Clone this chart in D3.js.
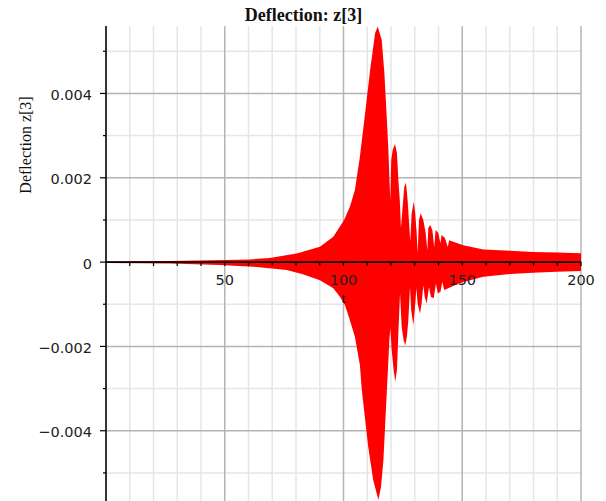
<!DOCTYPE html>
<html>
<head>
<meta charset="utf-8">
<script src="https://cdn.jsdelivr.net/npm/d3@7"></script>
<style>
  body { margin: 0; background: #fff; }
  .tick-label { font-family: "DejaVu Sans", sans-serif; font-size: 14.5px; fill: #222; }
  .serif { font-family: "Liberation Serif", "Times New Roman", serif; fill: #111; }
</style>
</head>
<body>
<svg id="chart" width="606" height="501"></svg>
<script>
const title = 'Deflection: z[3]';
const xLabel = 't';
const yLabel = 'Deflection z[3]';

const xTicks = [50, 100, 150, 200];
const yTicks = [-0.004, -0.002, 0, 0.002, 0.004];

// upper edge of the oscillation band (values x 1e-3)
const upperT = [0, 27, 50, 60.6, 69, 80.3, 90.1, 95.7, 100.2, 102.7,
  104.8, 106.9, 109.1, 111.2, 113.3, 114.4, 116.1, 117.2, 118.2, 118.9,
  119.3, 119.7, 120.1, 120.7, 121.7, 122.5, 123.1, 123.7, 124.2, 124.9,
  125.6, 126.3, 127.0, 127.6, 128.1, 128.7, 129.6, 130.2, 130.8, 131.2,
  131.8, 132.5, 133.6, 134.6, 135.3, 135.7, 136.5, 137.4, 138.2, 138.8,
  139.9, 140.8, 141.3, 142.7, 143.9, 144.5, 146.2, 148.3, 150.4, 158.9,
  170.1, 179.8, 189.8, 200];
const upperZ = [0.012, 0.024, 0.047, 0.064, 0.10, 0.206, 0.363, 0.60, 0.995, 1.31,
  1.71, 2.50, 3.53, 4.55, 5.43, 5.59, 5.27, 4.49, 3.44, 2.66,
  2.02, 1.47, 2.42, 2.66, 2.80, 2.59, 1.95, 1.47, 0.81, 1.31,
  1.79, 1.88, 1.47, 0.93, 0.48, 1.16, 1.43, 1.16, 0.69, 0.21,
  1.00, 1.16, 1.00, 0.69, 0.28, 0.81, 0.88, 0.76, 0.36, 0.76,
  0.69, 0.45, 0.64, 0.57, 0.36, 0.52, 0.48, 0.44, 0.40, 0.30,
  0.27, 0.24, 0.23, 0.21];

// lower edge of the oscillation band (values x 1e-3)
const lowerT = [0, 27, 48, 62, 76.1, 82.9, 90.1, 95.7, 98.5, 100.6,
  102.7, 104.8, 106.9, 107.7, 110.4, 112.5, 114.7, 115.8, 116.8, 117.5, 118.2,
  118.9, 119.3, 119.7, 120.3, 121.1, 121.8, 122.5, 123.1, 123.8, 124.5,
  125.3, 126.0, 126.7, 127.3, 128.0, 128.5, 129.4, 130.0, 130.7, 131.2,
  132.2, 132.9, 133.6, 134.2, 135.0, 136.0, 136.8, 138.0, 138.9, 139.7,
  140.8, 141.6, 142.4, 144.1, 146.9, 150.4, 158.9, 170.1, 179.8, 189.8,
  200];
const lowerZ = [-0.024, -0.036, -0.071, -0.11, -0.19, -0.29, -0.43, -0.62, -0.82, -1.02,
  -1.38, -1.77, -2.44, -3.03, -4.38, -5.17, -5.64, -5.33, -4.70, -3.91, -3.11,
  -2.33, -1.85, -1.57, -2.09, -2.56, -2.84, -2.56, -1.69, -0.74, -1.54,
  -1.85, -1.97, -1.77, -1.38, -0.59, -1.14, -1.50, -1.14, -0.62, -0.98,
  -1.22, -0.98, -0.55, -0.82, -0.98, -0.59, -0.82, -0.86, -0.51, -0.74,
  -0.71, -0.47, -0.66, -0.62, -0.55, -0.47, -0.35, -0.28, -0.25, -0.23,
  -0.21];

const x = d3.scaleLinear().domain([0, 200]).range([106, 581]);
const y = d3.scaleLinear().domain([-0.00569, 0.0056]).range([502, 26]);
const [plotLeft, plotRight] = x.range();
const [plotBottom, plotTop] = y.range();

const svg = d3.select('#chart');

// grid: light minor lines, darker major lines
const xMinor = d3.range(10, 201, 10).filter(v => v % 50 !== 0);
const yMinor = [-0.005, -0.003, -0.001, 0.001, 0.003, 0.005];
const yMajor = yTicks.filter(v => v !== 0);

function drawGrid(xs, ys, color) {
  const g = svg.append('g').attr('stroke', color).attr('stroke-width', 1.5);
  g.selectAll('.v').data(xs).join('line')
    .attr('x1', d => x(d)).attr('x2', d => x(d))
    .attr('y1', plotTop).attr('y2', plotBottom);
  g.selectAll('.h').data(ys).join('line')
    .attr('x1', plotLeft).attr('x2', plotRight)
    .attr('y1', d => y(d)).attr('y2', d => y(d));
}
drawGrid(xMinor, yMinor, '#e6e6e6');
drawGrid(xTicks, yMajor, '#b4b4b4');

// signal band
const band = (ts, zs) => ts.map((t, i) => ({ t, z: zs[i] * 1e-3 }));
const area = d3.area().x(d => x(d.t)).y0(y(0)).y1(d => y(d.z));
svg.append('path').datum(band(upperT, upperZ)).attr('d', area).attr('fill', '#ff0000');
svg.append('path').datum(band(lowerT, lowerZ)).attr('d', area).attr('fill', '#ff0000');

// axes
const axes = svg.append('g').attr('stroke', '#000');
axes.append('line').attr('x1', plotLeft).attr('x2', plotRight)
  .attr('y1', y(0)).attr('y2', y(0)).attr('stroke-width', 1.6);
axes.append('line').attr('x1', plotLeft).attr('x2', plotLeft)
  .attr('y1', plotTop).attr('y2', 501).attr('stroke-width', 1.6);
axes.selectAll('.xt').data(d3.range(10, 201, 10)).join('line')
  .attr('x1', d => x(d)).attr('x2', d => x(d))
  .attr('y1', y(0)).attr('y2', y(0) + 4).attr('stroke-width', 1.2);
axes.selectAll('.yt').data(yTicks.concat(yMinor)).join('line')
  .attr('x1', d => plotLeft - (yTicks.includes(d) ? 6 : 3)).attr('x2', plotLeft)
  .attr('y1', d => y(d)).attr('y2', d => y(d)).attr('stroke-width', 1.2);

const fmt = d3.format('.3f');
svg.selectAll('.xl').data(xTicks).join('text')
  .attr('class', 'tick-label')
  .attr('x', d => x(d)).attr('y', y(0) + 23)
  .attr('text-anchor', 'middle')
  .text(d => d);
svg.selectAll('.yl').data(yTicks).join('text')
  .attr('class', 'tick-label')
  .attr('x', 92).attr('y', d => y(d) + 6.5)
  .attr('text-anchor', 'end')
  .text(d => (d === 0 ? '0' : fmt(d)));

svg.append('text').attr('class', 'serif')
  .attr('x', (plotLeft + plotRight) / 2).attr('y', y(0) + 41)
  .attr('text-anchor', 'middle').attr('font-size', 15)
  .text(xLabel);

svg.append('text').attr('class', 'serif')
  .attr('transform', 'translate(31,145) rotate(-90)')
  .attr('text-anchor', 'middle').attr('font-size', 16)
  .text(yLabel);

svg.append('text').attr('class', 'serif')
  .attr('x', 303.5).attr('y', 21)
  .attr('text-anchor', 'middle').attr('font-size', 18).attr('font-weight', 'bold')
  .text(title);
</script>
</body>
</html>
